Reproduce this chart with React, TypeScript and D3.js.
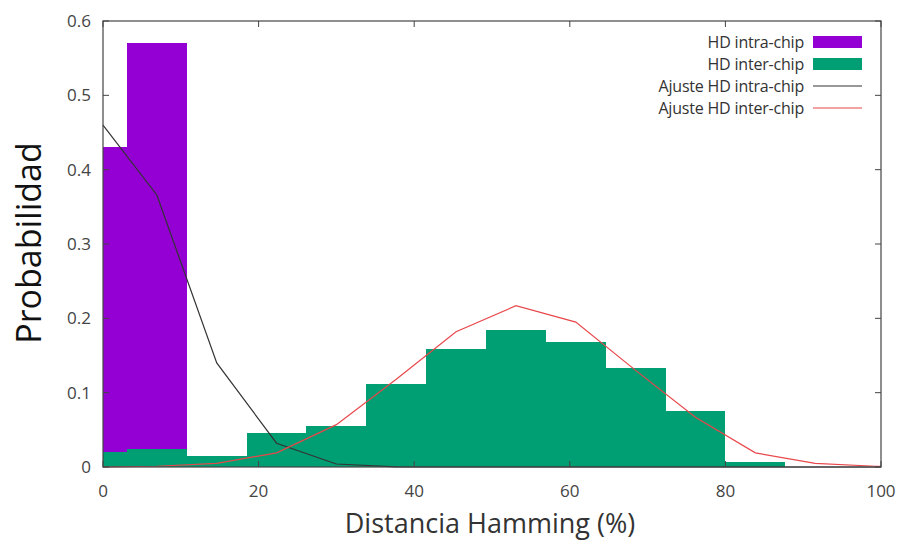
import React from "react";
import * as d3 from "d3";

const binEdges = [0, 3.08, 10.77, 18.46, 26.15, 33.85, 41.54, 49.23, 56.92, 64.62, 72.31, 80.0, 87.69];
const intraValues = [0.43, 0.57];
const interValues = [0.02, 0.024, 0.015, 0.046, 0.055, 0.112, 0.159, 0.184, 0.168, 0.133, 0.075, 0.007];

const fitX = [0, 6.92, 14.62, 22.31, 30.0, 37.69, 45.38, 53.08, 60.77, 68.46, 76.15, 83.85, 91.54, 99.23, 100];
const fitIntra = [0.46, 0.366, 0.14, 0.032, 0.004, 0.0003, 0, 0, 0, 0, 0, 0, 0, 0, 0];
const fitInter = [0, 0.001, 0.005, 0.019, 0.057, 0.118, 0.182, 0.217, 0.195, 0.13, 0.067, 0.019, 0.005, 0.001, 0.001];

const xTicks = [0, 20, 40, 60, 80, 100];
const yTicks = [0, 0.1, 0.2, 0.3, 0.4, 0.5, 0.6];
const legendLabels = ["HD intra-chip", "HD inter-chip", "Ajuste HD intra-chip", "Ajuste HD inter-chip"];

const W = 903, H = 540;
const L = 103, R = 881, T = 21, B = 467;
const PURPLE = "#9400d3", GREEN = "#009e73", RED = "#e8474b", BLACK = "#333333";
const FONT = "'Open Sans', 'DejaVu Sans', sans-serif";

export default function App() {
  const x = d3.scaleLinear().domain([0, 100]).range([L, R]);
  const y = d3.scaleLinear().domain([0, 0.6]).range([B, T]);
  const line = d3.line<number>().x((_, i) => x(fitX[i])).y((d) => y(d));

  const bars = (vals: number[], color: string, key: string) =>
    vals.map((v, i) => (
      <rect key={key + i} x={x(binEdges[i])} y={y(v)} width={x(binEdges[i + 1]) - x(binEdges[i])} height={y(0) - y(v)} fill={color} shapeRendering="crispEdges" />
    ));

  const legendColors = [PURPLE, GREEN, BLACK, RED];
  return (
    <svg width={W} height={H} style={{ position: "absolute", left: 0, top: 0, background: "#fff" }} fontFamily={FONT}>
      <rect x={0} y={0} width={W} height={H} fill="#fff" />
      {bars(intraValues, PURPLE, "p")}
      {bars(interValues, GREEN, "g")}
      <path d={line(fitIntra) || ""} fill="none" stroke={BLACK} strokeWidth={1.2} />
      <path d={line(fitInter) || ""} fill="none" stroke={RED} strokeWidth={1.2} />
      <rect x={L} y={T} width={R - L} height={B - T} fill="none" stroke="#444" strokeWidth={1.2} />
      {yTicks.map((t) => (
        <g key={"y" + t}>
          <line x1={L} x2={L + 6} y1={y(t)} y2={y(t)} stroke="#444" />
          <line x1={R} x2={R - 6} y1={y(t)} y2={y(t)} stroke="#444" />
          <text x={L - 12} y={y(t)} dy="0.35em" textAnchor="end" fontSize={17} fill="#444">{t}</text>
        </g>
      ))}
      {xTicks.map((t) => (
        <g key={"x" + t}>
          <line x1={x(t)} x2={x(t)} y1={B} y2={B - 6} stroke="#444" />
          <line x1={x(t)} x2={x(t)} y1={T} y2={T + 6} stroke="#444" />
          <text x={x(t)} y={497} textAnchor="middle" fontSize={17} fill="#444">{t}</text>
        </g>
      ))}
      <text x={490} y={533} textAnchor="middle" fontSize={27} fill="#333">Distancia Hamming (%)</text>
      <text transform={`translate(41,243) rotate(-90)`} textAnchor="middle" fontSize={34} fill="#111">Probabilidad</text>
      {legendLabels.map((lab, i) => {
        const cy = 42 + i * 22;
        return (
          <g key={lab}>
            <text x={804} y={cy} dy="0.35em" textAnchor="end" fontSize={16} fill="#333" letterSpacing={-0.2}>{lab}</text>
            {i < 2 ? (
              <rect x={813} y={cy - 6} width={49} height={12} fill={legendColors[i]} />
            ) : (
              <line x1={813} x2={862} y1={cy} y2={cy} stroke={legendColors[i]} strokeWidth={1.2} />
            )}
          </g>
        );
      })}
    </svg>
  );
}
